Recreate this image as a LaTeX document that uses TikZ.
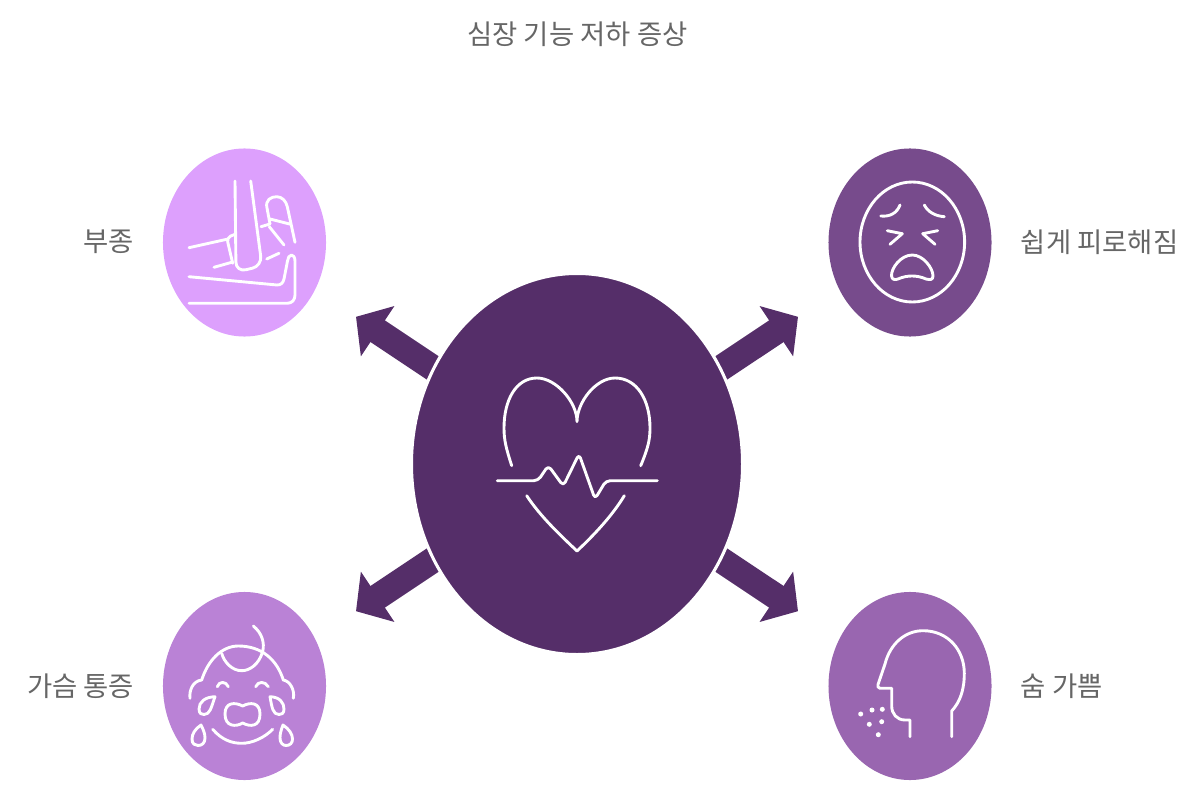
\documentclass[tikz,border=0pt]{standalone}
\usepackage{fontspec}
\usepackage{xcolor}
\usepackage{tikz}
\usetikzlibrary{shapes.geometric,backgrounds,arrows.meta}
\newfontfamily\krfont{Noto Sans CJK KR}
\definecolor{HeartPurple}{HTML}{552E69}
\definecolor{EdemaPurple}{HTML}{DDA0FD}
\definecolor{TiredPurple}{HTML}{774B8C}
\definecolor{ChestPurple}{HTML}{BA82D6}
\definecolor{BreathPurple}{HTML}{9966B0}
\definecolor{LabelGray}{HTML}{666666}
\tikzset{
    symptom_node/.style={ellipse, inner sep=0pt, outer sep=0pt, minimum width=4.075cm, minimum height=4.7cm},
    label_text/.style={text=LabelGray, font=\krfont\fontsize{19.5pt}{23pt}\selectfont, inner sep=0pt},
    icon_line/.style={draw=white, line width=2.05pt, line cap=round, line join=round}
}

\begin{document}
\begin{tikzpicture}[
        x=0.025cm, y=-0.025cm,
        % --- Arrow from the centre ---
        arrow_line/.style={
            draw=HeartPurple,
            line width=18.5pt,
            -{Triangle[length=18.5pt, width=42pt]}
        },
        % --- Centre oval ---
        main_node/.style={
            ellipse,
            fill=HeartPurple,
            draw=white,
            line width=2.2pt,
            inner sep=0pt,
            outer sep=0pt,
            minimum width=8.275cm,
            minimum height=9.525cm
        }
    ]
        \useasboundingbox (0,0) rectangle (1200,800);

        % --- Title ---
        \node[label_text] (title) at (577.5,34) {심장 기능 저하 증상};

        % --- Ovals ---
        \node[main_node] (heart) at (577,464) {};
        \node[symptom_node, fill=EdemaPurple] (edema) at (244.5,242.5) {};
        \node[symptom_node, fill=TiredPurple] (tired) at (910,242.5) {};
        \node[symptom_node, fill=ChestPurple] (chest) at (244.5,686) {};
        \node[symptom_node, fill=BreathPurple] (breath) at (910,686) {};

        % --- Labels ---
        \node[label_text, anchor=east] (edema_label) at (134.5,242) {부종};
        \node[label_text, anchor=west] (tired_label) at (1020.5,242) {쉽게 피로해짐};
        \node[label_text, anchor=east] (chest_label) at (134.5,686) {가슴 통증};
        \node[label_text, anchor=west] (breath_label) at (1020.5,686) {숨 가쁨};

        % --- Arrows ---
        \coordinate (tip_nw) at (356,316.8);
        \coordinate (tip_ne) at (798,316.8);
        \coordinate (tip_sw) at (356,611.2);
        \coordinate (tip_se) at (798,611.2);
        \begin{scope}[on background layer]
            \foreach \tip in {tip_nw, tip_ne, tip_sw, tip_se} {
                \draw[arrow_line] (heart.center) -- (\tip);
            }
        \end{scope}

        % --- Heart icon ---
        \draw[icon_line] (511.7,465.7) .. controls (506,448) and (504,440) .. (504,428)
            .. controls (504,400) and (516,378) .. (537,378)
            .. controls (556,378) and (577,402) .. (577,421.7)
            .. controls (577,402) and (596,378) .. (615,378)
            .. controls (637,378) and (650,400) .. (650,428)
            .. controls (650,440) and (648,448) .. (640.7,465.7);
        \draw[icon_line, rounded corners=3] (497.3,480.7) -- (538,480.7) -- (548.3,465.5) -- (563.3,486)
            -- (579,454) -- (595,499) -- (606,480.7) -- (657.3,480.7);
        \draw[icon_line] (526.7,495.7) .. controls (540,516) and (560,535) .. (577,551)
            .. controls (594,535) and (612,516) .. (624.3,495.7);

        % --- Elbow icon ---
        \draw[icon_line] (189,303.3) -- (287,303.3) .. controls (292,303.3) and (295,300) .. (295,295)
            -- (295,261) .. controls (295,257) and (293,255) .. (291.5,255)
            .. controls (289,255) and (288,258) .. (287.5,261)
            -- (284,279) .. controls (283,283) and (281,285) .. (277,285) -- (189,276.7);
        \draw[icon_line, rounded corners=7] (235,181) -- (236,272) -- (262,266) -- (250.7,181);
        \draw[icon_line] (189,247.7) -- (226.7,239.3);
        \draw[icon_line, rounded corners=3] (235,234.3) -- (226.7,237.7) -- (232.7,263.3);
        \draw[icon_line] (214,267.3) -- (231.7,262.3);
        \draw[icon_line] (266.7,259) -- (279,253.3);
        \draw[icon_line] (261,226.7) -- (270,224);
        \draw[icon_line] (270,224) -- (267,208) .. controls (265,200) and (271,196.7) .. (276.7,196.7)
            .. controls (282,196.7) and (286,201) .. (287.3,206.7) -- (295,242.3);
        \draw[icon_line] (270,219) -- (290.7,224.3);
        \draw[icon_line] (269.3,226.7) -- (284,245);

        % --- Tired face icon ---
        \draw[icon_line] (912.3,242) ellipse (52.3 and 60);
        \draw[icon_line] (880.7,216) .. controls (890,217) and (897,213) .. (900,205);
        \draw[icon_line] (924.3,205) .. controls (928,212) and (935,216) .. (944.3,216.7);
        \draw[icon_line] (887.3,230.7) -- (902.3,233.7) -- (890,244.3);
        \draw[icon_line] (937.7,230.7) -- (922.7,233.7) -- (935,244.3);
        \draw[icon_line] (912.3,255) .. controls (901,255) and (891,268) .. (891.5,276)
            .. controls (892,280) and (895,280) .. (898,279)
            .. controls (907,275) and (917,275) .. (926,279)
            .. controls (930,280) and (933,280) .. (933,276)
            .. controls (933,268) and (923,255) .. (912.3,255) -- cycle;

        % --- Baby icon ---
        \draw[icon_line] (190,698.3) .. controls (189,690) and (193,681) .. (201.7,680)
            .. controls (208,660) and (222,646) .. (238.3,646)
            .. controls (262,646) and (277,660) .. (283.3,680)
            .. controls (290,681) and (295,690) .. (293.3,698.3);
        \draw[icon_line] (253.3,626) .. controls (262,633) and (265,643) .. (262.5,652)
            .. controls (259,664) and (250,670.7) .. (241.7,670.7)
            .. controls (232,670.7) and (224,662) .. (221.7,653.3);
        \draw[icon_line] (217.3,686.7) .. controls (219,681) and (226,681) .. (228.3,686.7);
        \draw[icon_line] (255.7,686.7) .. controls (258,681) and (265,681) .. (268.3,686.7);
        \draw[icon_line] (242.7,706) .. controls (235,702) and (225,702) .. (225,714)
            .. controls (225,727) and (236,727) .. (242.7,723)
            .. controls (250,727) and (260,727) .. (260,714)
            .. controls (260,702) and (250,702) .. (242.7,706) -- cycle;
        \draw[icon_line] (212.7,729.3) .. controls (222,740) and (232,743.3) .. (241.7,743.3)
            .. controls (252,743.3) and (264,738) .. (272.7,729.3);
        % tears
        \draw[icon_line] (215,696.7) .. controls (205,697) and (199,702) .. (199,709)
            .. controls (199,714) and (202,714.5) .. (204,714.5)
            .. controls (210,714.5) and (211,708) .. (215,696.7) -- cycle;
        \draw[icon_line] (270,696.7) .. controls (280,697) and (284,703) .. (284,709)
            .. controls (284,714) and (281,714.5) .. (279,714.5)
            .. controls (273,714.5) and (272,708) .. (270,696.7) -- cycle;
        \draw[icon_line] (201,725) .. controls (195,729) and (192,734) .. (192,739)
            .. controls (192,744) and (195,745.5) .. (198,745.5)
            .. controls (202,745.5) and (205,743) .. (205,738)
            .. controls (205,733) and (203,729) .. (201,725) -- cycle;
        \draw[icon_line] (283,725) .. controls (281,730) and (280,734) .. (280,738)
            .. controls (280,743) and (283,745.5) .. (286,745.5)
            .. controls (290,745.5) and (292.5,743) .. (292.5,739)
            .. controls (292.5,734) and (289,729) .. (283,725) -- cycle;

        % --- Head icon ---
        \draw[icon_line] (910,736.7) -- (910,720) -- (905,720)
            .. controls (897,720) and (891.7,714) .. (891.7,706)
            -- (891.7,688.3) -- (880,688.3)
            .. controls (877.7,688) and (877.5,686) .. (878,684.5)
            -- (885,664)
            .. controls (890,644) and (905,630.7) .. (923,630.7)
            .. controls (948,630.7) and (964.3,650) .. (964.3,673.3)
            .. controls (964.3,690) and (960,702) .. (951.7,711)
            -- (951.7,736.7);
        \foreach \dotx/\doty in {860.7/714, 872/710, 882.3/709.3, 869.3/724.3, 881.7/721.7, 878.3/734.7} {
            \fill[white] (\dotx,\doty) circle (2.5);
        }

    \end{tikzpicture}
\end{document}
